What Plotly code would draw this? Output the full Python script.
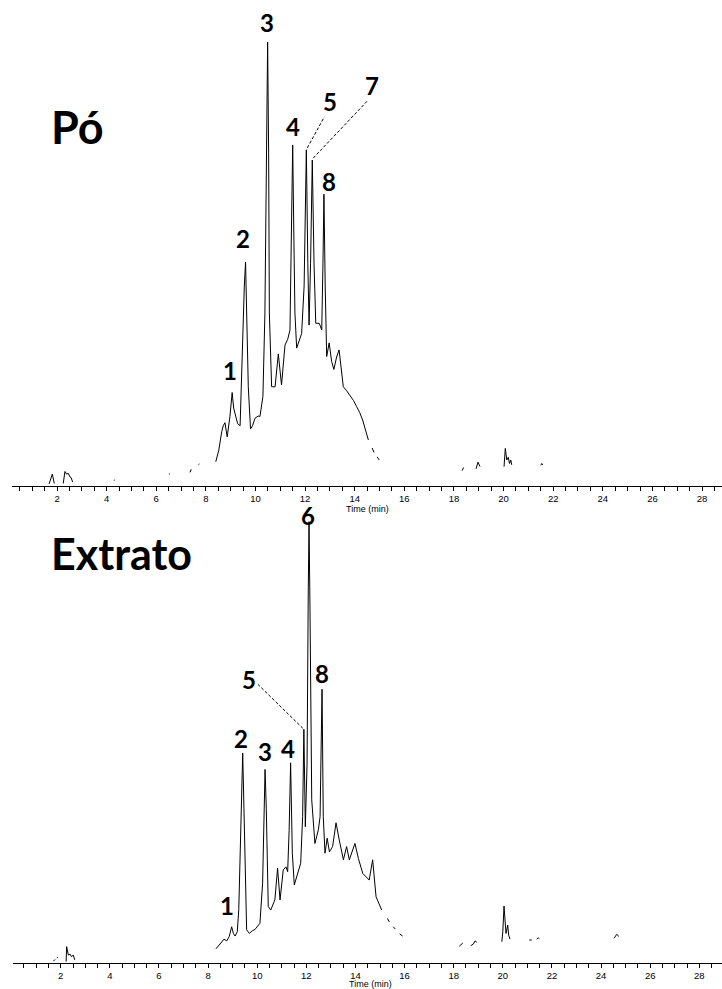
import plotly.graph_objects as go

# ---------------- data ----------------
# Top chromatogram "Pó": retention time (min) and relative intensity (% of the tallest peak)
time_po = [1.68, 1.75, 1.81, 1.89, None,
           2.25, 2.32, 2.39, 2.45, 2.52, 2.57, 2.63, None,
           4.29, 4.33, None,
           6.51, 6.55, None,
           7.36, 7.41, None,
           7.70, 7.74, None,
           8.40, 8.52, 8.64, 8.70, 8.77, 8.86, 8.97, 9.06, 9.12, 9.17, 9.28, 9.38,
           9.46, 9.55, 9.60, 9.65, 9.71, 9.80, 9.88, 9.98, 10.11, 10.18, 10.30, 10.38,
           10.45, 10.49, 10.53, 10.56, 10.65, 10.79, 10.92, 11.05, 11.19, 11.30, 11.39,
           11.45, 11.50, 11.55, 11.59, 11.66, 11.76, 11.86, 11.96, 12.05, 12.11, 12.16,
           12.22, 12.29, 12.36, 12.43, 12.57, 12.67, 12.72, 12.76, 12.81, 12.87, 12.97,
           13.07, 13.16, 13.27, 13.37, 13.45, 13.54, 13.66, 13.81, 13.95, 14.08, 14.20,
           14.32, 14.45, 14.55, None,
           14.70, 14.78, None,
           14.90, 14.99, None,
           18.33, 18.39, None,
           18.89, 18.97, 19.05, None,
           20.02, 20.07, 20.13, 20.19, 20.24, 20.29, 20.33, None,
           21.50, 21.54, 21.58]
int_po = [0.4, 1.6, 2.6, 0.5, None,
          0.5, 3.2, 2.6, 2.8, 2.0, 1.8, 0.8, None,
          1.2, 1.3, None,
          2.6, 2.7, None,
          3.0, 3.7, None,
          4.8, 4.9, None,
          5.4, 8.0, 12.2, 13.5, 14.2, 11.0, 15.6, 21.0, 17.5, 16.3, 14.0, 13.5,
          30.6, 45.0, 50.4, 40.0, 22.3, 12.8, 13.5, 15.2, 15.7, 15.6, 20.1, 38.9,
          80.0, 100.0, 75.0, 38.9, 22.3, 22.3, 29.7, 22.7, 31.7, 33.0, 35.1,
          55.0, 76.8, 55.0, 38.9, 31.0, 32.5, 34.3, 45.0, 75.7, 50.0, 36.2,
          50.0, 73.4, 50.0, 36.6, 36.6, 35.1, 50.0, 65.7, 45.0, 29.1, 32.2,
          28.0, 26.2, 29.0, 30.6, 26.0, 22.3, 21.5, 20.4, 19.2, 17.8, 16.5,
          14.8, 12.5, 10.3, None,
          8.5, 7.5, None,
          6.5, 5.8, None,
          3.4, 4.1, None,
          3.8, 5.3, 4.3, None,
          4.3, 8.4, 5.8, 6.4, 5.0, 5.8, 4.7, None,
          4.6, 5.0, 4.7]

# Bottom chromatogram "Extrato"
time_ext = [1.70, 1.77, None,
            1.84, 1.88, None,
            2.22, 2.24, 2.31, 2.38, 2.44, 2.51, 2.57, None,
            8.32, 8.45, 8.55, 8.65, 8.76, 8.86, 8.96, 9.03, 9.10, 9.19, 9.25, 9.30,
            9.36, 9.41, 9.46, 9.50, 9.57, 9.68, 9.80, 9.91, 10.11, 10.22, 10.27, 10.32,
            10.37, 10.41, 10.45, 10.55, 10.72, 10.83, 10.93, 11.06, 11.17, 11.24, 11.30,
            11.36, 11.43, 11.51, 11.67, 11.77, 11.85, 11.90, 11.96, 12.03, 12.08, 12.11,
            12.15, 12.22, 12.35, 12.49, 12.56, 12.64, 12.69, 12.76, 12.85, 12.94, 13.07,
            13.21, 13.34, 13.51, 13.64, 13.75, 13.98, 14.12, 14.30, 14.56, 14.70, 14.84,
            15.07, None,
            15.30, 15.38, None,
            15.54, 15.62, None,
            15.80, 15.92, None,
            18.23, 18.37, None,
            18.69, 18.80, 18.87, 18.94, None,
            19.96, 20.00, 20.05, 20.09, 20.13, 20.20, 20.24, 20.29, None,
            21.08, 21.18, None,
            21.38, 21.44, 21.49, None,
            24.53, 24.64, 24.73]
int_ext = [0.3, 0.7, None,
           1.0, 1.2, None,
           0.2, 3.6, 1.7, 1.9, 1.3, 1.7, 0.6, None,
           3.1, 4.0, 4.7, 5.3, 4.9, 5.9, 8.1, 6.6, 6.0, 7.0, 12.0, 21.7,
           35.0, 47.5, 35.0, 21.7, 7.4, 6.6, 7.2, 7.5, 8.9, 18.0, 30.0, 43.8,
           35.0, 21.7, 12.7, 11.9, 14.2, 21.4, 14.2, 21.0, 21.7, 20.6, 30.0,
           45.3, 24.8, 17.6, 21.0, 22.5, 33.1, 52.9, 30.8, 45.0, 85.0, 100.0,
           80.0, 36.9, 27.0, 30.1, 33.1, 62.0, 33.1, 24.8, 28.2, 25.1, 26.3,
           31.7, 27.8, 23.3, 26.3, 23.3, 27.0, 23.6, 20.2, 18.7, 23.3, 14.9,
           11.9, None,
           10.0, 9.2, None,
           8.1, 7.6, None,
           6.5, 6.0, None,
           3.7, 4.4, None,
           3.8, 4.2, 4.9, 4.6, None,
           4.7, 7.0, 12.8, 10.0, 6.6, 8.5, 6.2, 5.3, None,
           5.1, 5.1, None,
           5.3, 5.6, 5.4, None,
           5.5, 6.4, 5.9]

# numbered peaks (retention times of the labelled peaks)
po_labels = ["1", "2", "3", "4", "5", "7", "8"]
po_label_times = [9.06, 9.60, 10.49, 11.50, 12.05, 12.29, 12.76]
ext_labels = ["1", "2", "3", "4", "5", "6", "8"]
ext_label_times = [8.96, 9.41, 10.32, 11.36, 11.90, 12.11, 12.64]

tick_values = [2, 4, 6, 8, 10, 12, 14, 16, 18, 20, 22, 24, 26, 28]

# ---------------- styling / layout ----------------
W, H = 722, 989
LABEL_FONT = "Lato"
AXIS_FONT = "Liberation Sans"

# pixel offsets of the peak numbers (label position relative to peak apex)
po_offsets = {"1": (-2, 22), "2": (-3, 24), "3": (-1, 20), "4": (0, 18),
              "5": (24, 48), "7": (60, 75), "8": (5, 13)}
ext_offsets = {"1": (-5, 21), "2": (-2, 15), "3": (0, 18), "4": (-3, 14),
               "5": (-55, 50), "6": (-1, 6), "8": (0, 16)}
# dashed leader lines (start offset, end offset) in pixels, y up
po_leaders = {"5": ((1, 2), (18, 33)), "7": ((1, 2), (55, 59))}
ext_leaders = {"5": ((-1, 1), (-46, 45))}

fig = go.Figure()
fig.add_trace(go.Scatter(x=time_po, y=int_po, mode="lines", xaxis="x", yaxis="y",
                         line=dict(color="black", width=1), connectgaps=False,
                         hoverinfo="skip", showlegend=False))
fig.add_trace(go.Scatter(x=time_ext, y=int_ext, mode="lines", xaxis="x2", yaxis="y2",
                         line=dict(color="black", width=1), connectgaps=False,
                         hoverinfo="skip", showlegend=False))

# axis geometry (pixel based)
top_base, top_peak_px = 485.7, 42.0          # baseline and 100% level (px from top)
bot_base, bot_peak_px, bot_top = 962.5, 521.7, 500.0

def xaxis_common(left_px, r0, r1):
    return dict(domain=[left_px / W, 1.0], range=[r0, r1], showgrid=False, zeroline=False,
                showline=True, linecolor="black", linewidth=1,
                ticks="outside", ticklen=4, tickwidth=1, tickcolor="black",
                tickmode="array", tickvals=tick_values, ticktext=[str(v) for v in tick_values],
                tickfont=dict(family=AXIS_FONT, size=9.5, color="black"),
                minor=dict(dtick=0.5, tick0=0, ticks="outside", ticklen=4, tickwidth=1,
                           tickcolor="black", showgrid=False),
                automargin=False, fixedrange=True)

top_range_max = 100.0 * top_base / (top_base - top_peak_px)
bot_range_max = 100.0 * (bot_base - bot_top) / (bot_base - bot_peak_px)

fig.update_layout(
    width=W, height=H, margin=dict(l=0, r=0, t=0, b=0),
    paper_bgcolor="white", plot_bgcolor="white",
    xaxis=dict(anchor="y", **xaxis_common(12.3, 0.1975, 28.805)),
    xaxis2=dict(anchor="y2", **xaxis_common(13.3, 0.069, 28.925)),
    yaxis=dict(domain=[1 - top_base / H, 1.0], range=[0, top_range_max], visible=False,
               anchor="x", fixedrange=True),
    yaxis2=dict(domain=[1 - bot_base / H, 1 - bot_top / H], range=[0, bot_range_max],
                visible=False, anchor="x2", fixedrange=True),
    showlegend=False,
)

annotations = []
shapes = []

def add_labels(labels, times, tlist, vlist, offsets, leaders, xr, yr):
    for lab, t in zip(labels, times):
        v = vlist[tlist.index(t)]
        dx, dy = offsets[lab]
        annotations.append(dict(x=t, y=v, xref=xr, yref=yr, text="<b>%s</b>" % lab,
                                showarrow=False, xanchor="center", yanchor="middle",
                                xshift=dx, yshift=dy, borderpad=0,
                                font=dict(family=LABEL_FONT, size=24, color="black")))
        if lab in leaders:
            (sx, sy), (ex, ey) = leaders[lab]
            shapes.append(dict(type="line", xref=xr, yref=yr, xsizemode="pixel",
                               ysizemode="pixel", xanchor=t, yanchor=v,
                               x0=sx, y0=sy, x1=ex, y1=ey,
                               line=dict(color="black", width=1, dash="3px,2px")))

add_labels(po_labels, po_label_times, time_po, int_po, po_offsets, po_leaders, "x", "y")
add_labels(ext_labels, ext_label_times, time_ext, int_ext, ext_offsets, ext_leaders, "x2", "y2")

# panel titles
annotations.append(dict(x=49 / W, y=1 - 127 / H, xref="paper", yref="paper", text="<b>Pó</b>",
                        showarrow=False, xanchor="left", yanchor="middle",
                        font=dict(family=LABEL_FONT, size=45, color="black")))
annotations.append(dict(x=49 / W, y=1 - 553 / H, xref="paper", yref="paper",
                        text="<b>Extrato</b>", showarrow=False, xanchor="left",
                        yanchor="middle", font=dict(family=LABEL_FONT, size=43, color="black")))

# x-axis titles
for xc, yc in ((367, 509), (370, 984)):
    annotations.append(dict(x=xc / W, y=1 - yc / H, xref="paper", yref="paper",
                            text="Time (min)", showarrow=False, xanchor="center",
                            yanchor="middle", borderpad=0,
                            font=dict(family=AXIS_FONT, size=9, color="black")))

fig.update_layout(annotations=annotations, shapes=shapes)
fig.write_html("out.html", config={"displayModeBar": False},
               post_script="document.body.style.margin='0';")
